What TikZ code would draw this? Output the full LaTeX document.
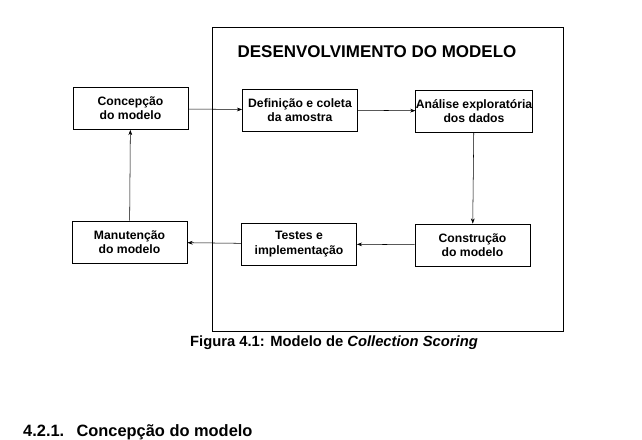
\documentclass[tikz,border=0pt]{standalone}
\usepackage{fontspec}
\setmainfont{Liberation Sans}
\usetikzlibrary{arrows.meta}
\begin{document}
\begin{tikzpicture}[x=0.03cm,y=-0.03cm,>={Stealth[length=4.5pt,width=3.2pt]},
 n/.style={draw,line width=0.6pt,minimum width=3.45cm,minimum height=1.26cm,inner xsep=0pt,inner ysep=1pt,
   align=center,font=\fontsize{10.4}{12.2}\selectfont\bfseries},
 con/.style={->,line width=0.45pt}]
\useasboundingbox (0,0) rectangle (642,439);
\node[draw,line width=0.5pt,minimum width=10.53cm,minimum height=9.12cm] (frame) at (387.5,179) {};
\node[font=\fontsize{14.5}{17}\selectfont\bfseries] (title) at (377,52) {DESENVOLVIMENTO DO MODELO};
\node[n] (concepcao) at (130.5,108.5) {Concepção\\do modelo};
\node[n] (definicao) at (300,110) {Definição e coleta\\da amostra};
\node[n] (analise) at (474,111) {Análise exploratória\\dos dados};
\node[n] (manutencao) at (129.5,242) {Manutenção\\do modelo};
\node[n] (testes) at (299,244) {Testes e\\implementação};
\node[n] (construcao) at (472.5,245) {Construção\\do modelo};
\draw[con] (concepcao) -- (definicao);
\draw[con] (definicao) -- (analise);
\draw[con] (analise) -- (construcao);
\draw[con] (construcao) -- (testes);
\draw[con] (testes) -- (manutencao);
\draw[con] (manutencao) -- (concepcao);
\node[font=\fontsize{12.6}{14}\selectfont\bfseries] (caption) at (334,343) {Figura 4.1: Modelo de \textit{Collection Scoring}};
\node[anchor=west,inner sep=0pt,font=\fontsize{14}{16}\selectfont\bfseries] (heading) at (23,432) {4.2.1.\hspace{0.75em}Concepção do modelo};
\end{tikzpicture}
\end{document}
